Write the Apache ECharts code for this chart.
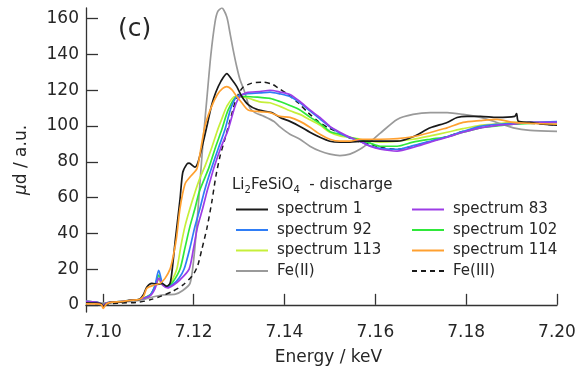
<!DOCTYPE html>
<html>
<head>
<meta charset="utf-8">
<script src="https://cdn.jsdelivr.net/npm/echarts@6/dist/echarts.min.js"></script>
<style>html,body{margin:0;padding:0;background:#fff;}#c{width:581px;height:371px;}</style>
</head>
<body>
<div id="c"></div>
<script>
// ---- Data (energy keV, μd a.u.) ----
const xTicks = [7.10, 7.12, 7.14, 7.16, 7.18, 7.20];
const yTicks = [0, 20, 40, 60, 80, 100, 120, 140, 160];
const legendLeft = ['spectrum 1', 'spectrum 92', 'spectrum 113', 'Fe(II)'];
const legendRight = ['spectrum 83', 'spectrum 102', 'spectrum 114', 'Fe(III)'];

const spectrum1 = [[7.0963,1],[7.0985,1],[7.0997,0.5],[7.1001,-1],[7.1008,0.5],[7.102,1.5],[7.104,1.5],[7.106,2.5],[7.108,3],[7.109,6],[7.1097,10],[7.1108,12],[7.1121,11.5],[7.113,12],[7.1141,10.4],[7.1148,12],[7.1152,18],[7.1160,37],[7.1170,59],[7.1176,74],[7.1185,78.7],[7.1190,79.3],[7.1203,77],[7.1210,80],[7.1222,92],[7.1231,102],[7.1240,112],[7.1249,119],[7.1260,125],[7.1273,129.3],[7.1284,126],[7.1295,122],[7.1306,116.5],[7.1320,112],[7.1342,109],[7.1372,107.5],[7.1390,104.8],[7.1412,102.6],[7.1434,99.8],[7.1456,96.5],[7.1478,93.7],[7.1500,91.5],[7.1522,91],[7.1544,91],[7.1573,91.5],[7.1604,91.5],[7.1648,91.5],[7.1683,94],[7.1721,99],[7.1758,102],[7.1780,104.8],[7.1802,105.4],[7.1831,105.4],[7.1868,104.8],[7.1907,105.4],[7.1911,107],[7.1915,102.6],[7.1941,102],[7.1970,101],[7.2,100.5]];
const spectrum83 = [[7.0963,2],[7.0985,1.5],[7.0997,0.5],[7.1001,-0.5],[7.1008,1],[7.102,1.5],[7.104,1.8],[7.106,2.5],[7.108,3],[7.1104,5],[7.1115,9],[7.1123,15],[7.1132,11],[7.1143,9.5],[7.1155,11],[7.1170,14],[7.1190,20],[7.1200,32],[7.1209,44],[7.1220,54],[7.1229,63],[7.1237,70],[7.1245,77],[7.1260,88],[7.1276,98],[7.1291,111],[7.1302,116.5],[7.1317,118.7],[7.1346,119.3],[7.1368,120],[7.1390,119],[7.1412,117.6],[7.1434,113.7],[7.1456,109],[7.1478,104.8],[7.1500,99.8],[7.1522,96.5],[7.1544,93.7],[7.1566,91.5],[7.1588,88.7],[7.1611,87],[7.1648,86],[7.1683,88],[7.1721,91],[7.1758,93.7],[7.1793,96.5],[7.1831,99],[7.1868,100.4],[7.1904,101],[7.1941,102],[7.2,102]];
const spectrum92 = [[7.0963,2],[7.0985,1.5],[7.0997,0.5],[7.1001,-0.5],[7.1008,1],[7.102,1.5],[7.104,1.8],[7.106,2.5],[7.108,3],[7.1104,5.5],[7.1115,11],[7.1123,19.3],[7.1132,11.5],[7.1143,10],[7.1155,11.5],[7.1168,15],[7.1179,20],[7.1192,32],[7.1203,44],[7.1214,54],[7.1223,63],[7.1231,70],[7.1240,77],[7.1255,88],[7.1269,98],[7.1282,110],[7.1295,116.5],[7.1315,118],[7.1346,118.5],[7.1368,119],[7.1390,118],[7.1412,116.5],[7.1434,113],[7.1456,108.5],[7.1478,104],[7.1500,99.5],[7.1522,96],[7.1544,93.5],[7.1566,91.5],[7.1588,89],[7.1611,87.5],[7.1648,87],[7.1683,89],[7.1721,91.5],[7.1758,94],[7.1793,97],[7.1831,99.8],[7.1868,101],[7.1904,101.5],[7.1941,102],[7.2,102.5]];
const spectrum102 = [[7.0963,2],[7.0985,1.5],[7.0997,0.5],[7.1001,-0.5],[7.1008,1],[7.102,1.5],[7.104,1.8],[7.106,2.5],[7.108,3],[7.1104,5.5],[7.1115,10.5],[7.1123,16.7],[7.1132,11.5],[7.1143,10],[7.1155,13],[7.1170,20],[7.1181,32],[7.1192,44],[7.1203,54],[7.1212,63],[7.1223,70],[7.1234,77],[7.1248,88],[7.1262,98],[7.1276,109],[7.1295,116.5],[7.1315,116.5],[7.1346,116],[7.1368,115.5],[7.1390,113.7],[7.1412,111.5],[7.1434,109],[7.1456,105],[7.1478,101.5],[7.1500,97],[7.1522,95.4],[7.1544,93.7],[7.1566,92.2],[7.1588,90.5],[7.1611,88.7],[7.1648,88.7],[7.1683,91],[7.1721,92.6],[7.1758,94],[7.1793,96.5],[7.1831,99],[7.1868,100],[7.1904,101],[7.1941,101.5],[7.2,102]];
const spectrum113 = [[7.0963,2],[7.0985,1.5],[7.0997,0.5],[7.1001,-0.5],[7.1008,1],[7.102,1.5],[7.104,1.8],[7.106,2.5],[7.108,3],[7.1104,5.5],[7.1115,10],[7.1123,14],[7.1132,11],[7.1143,10.5],[7.1153,14],[7.1163,20],[7.1172,33],[7.1181,44],[7.1192,54],[7.1203,63],[7.1214,71],[7.1225,77.6],[7.1240,88],[7.1253,98],[7.1262,104],[7.1273,111],[7.1291,116.5],[7.1317,115.8],[7.1346,113.5],[7.1368,113],[7.1390,111],[7.1412,108.5],[7.1434,106.5],[7.1456,103.5],[7.1478,100.5],[7.1500,96.5],[7.1522,94.5],[7.1544,93.7],[7.1566,92.6],[7.1588,91.5],[7.1611,91],[7.1648,91.5],[7.1683,92.6],[7.1721,94.5],[7.1758,96.5],[7.1793,98.5],[7.1831,100.4],[7.1868,101.2],[7.1904,102],[7.1941,102],[7.2,102]];
const spectrum114 = [[7.0963,0.5],[7.0985,0.5],[7.0997,0],[7.1001,-2],[7.1008,0.5],[7.102,1.5],[7.104,1.8],[7.106,2.5],[7.108,3],[7.109,5],[7.1097,9.3],[7.1112,11],[7.1126,12],[7.1137,14.8],[7.1148,20],[7.1154,26],[7.1162,37],[7.1170,54],[7.1181,67.6],[7.1192,71.5],[7.1207,76],[7.1215,86],[7.1225,100],[7.1238,110],[7.1252,117.5],[7.1264,121],[7.1273,122],[7.1284,120.3],[7.1295,116.5],[7.1306,113],[7.1320,109],[7.1346,108],[7.1368,107.5],[7.1390,105.4],[7.1412,104.8],[7.1434,102.6],[7.1456,99.3],[7.1478,95.4],[7.1500,92.6],[7.1522,91.5],[7.1544,91.5],[7.1566,92.6],[7.1611,92.6],[7.1683,94],[7.1758,99],[7.1793,102],[7.1831,103],[7.1868,103.7],[7.1904,102],[7.1941,101.5],[7.2,101]];
const feII = [[7.0963,1.5],[7.1,1],[7.104,1.5],[7.108,2.5],[7.1104,4],[7.113,5.5],[7.116,6],[7.1176,8],[7.1192,12],[7.1200,25],[7.1208,48],[7.1215,72],[7.1221,92],[7.1229,115],[7.1238,140],[7.1247,158],[7.1253,164],[7.1262,166],[7.1273,161],[7.1280,152],[7.1287,142.6],[7.1295,133],[7.1302,126],[7.1311,120],[7.1317,115],[7.1324,110],[7.1335,107.5],[7.1355,105.4],[7.1377,102.5],[7.1390,99.5],[7.1412,95.4],[7.1434,92.6],[7.1456,88.7],[7.1478,86],[7.1500,84.3],[7.1522,83.5],[7.1544,84.3],[7.1566,87],[7.1588,91],[7.1611,96],[7.1648,103.7],[7.1683,106.5],[7.1721,107.5],[7.1758,107.5],[7.1793,106.5],[7.1831,104.8],[7.1868,102],[7.1904,99],[7.1941,97.6],[7.2,97]];
const feIII = [[7.0963,1],[7.1,0.5],[7.104,1],[7.108,1.5],[7.1104,2.8],[7.113,5],[7.1154,7.6],[7.1176,11],[7.1198,16.5],[7.1209,22],[7.1218,31],[7.1229,42.6],[7.1240,57.6],[7.1249,72],[7.1258,83],[7.1268,92],[7.1280,103],[7.1292,114],[7.1300,118.5],[7.1308,121.5],[7.1328,124],[7.1352,124.5],[7.1372,123.5],[7.1385,121.5],[7.1408,117.6],[7.1430,113],[7.1452,107.5],[7.1474,102.6],[7.1496,99],[7.1518,96.5],[7.1540,93.7],[7.1562,91.5],[7.1590,89.8],[7.1611,88],[7.1648,87],[7.1683,88.7],[7.1721,91.5],[7.1758,94],[7.1793,97],[7.1831,99],[7.1868,101],[7.1904,101.5],[7.1941,101.5],[7.2,100.5]];

const FONT = 'DejaVu Sans';
const TXT = '#262626';
const AX = '#333';

function line(name, data, color, extra) {
  return Object.assign({
    name, type: 'line', data, symbol: 'none', smooth: 0.25,
    lineStyle: { color, width: 1.7 }, itemStyle: { color },
    emphasis: { disabled: true }
  }, extra || {});
}

const chart = echarts.init(document.getElementById('c'), null, { renderer: 'canvas' });
const legendCommon = {
  orient: 'vertical', itemWidth: 32, itemHeight: 14, itemGap: 5.5,
  selectedMode: false,
  itemStyle: { opacity: 0 },
  textStyle: { fontFamily: FONT, fontSize: 15, color: TXT, padding: [0, 0, 0, 4] }
};
chart.setOption({
  animation: false,
  backgroundColor: '#fff',
  grid: { left: 86, right: 24, top: 8, bottom: 57, containLabel: false },
  xAxis: {
    type: 'value', min: 7.0963, max: 7.2,
    name: 'Energy / keV', nameLocation: 'middle', nameGap: 37,
    nameTextStyle: { fontFamily: FONT, fontSize: 17, color: TXT, padding: [0, 0, 0, 14] },
    axisLine: { show: true, lineStyle: { color: AX, width: 1.3 } },
    axisTick: { show: true, inside: true, length: 11, customValues: xTicks, lineStyle: { color: AX, width: 1.3 } },
    axisLabel: { customValues: xTicks, margin: 12, fontFamily: FONT, fontSize: 17, color: TXT,
      formatter: v => v.toFixed(2) },
    splitLine: { show: false }
  },
  yAxis: {
    type: 'value', min: -4, max: 166,
    name: '{i|μ}d / a.u.', nameLocation: 'middle', nameGap: 56,
    nameTextStyle: { fontFamily: FONT, fontSize: 17, color: TXT,
      rich: { i: { fontFamily: FONT, fontSize: 17, fontStyle: 'italic', color: TXT } } },
    axisLine: { show: true, lineStyle: { color: AX, width: 1.3 } },
    axisTick: { show: true, inside: true, length: 12, customValues: yTicks, lineStyle: { color: AX, width: 1.3 } },
    axisLabel: { customValues: yTicks, margin: 7, fontFamily: FONT, fontSize: 17, color: TXT },
    splitLine: { show: false }
  },
  legend: [
    Object.assign({ left: 230, top: 197, data: legendLeft }, legendCommon),
    Object.assign({ left: 406, top: 197, data: legendRight }, legendCommon)
  ],
  graphic: [
    { type: 'text', left: 118, top: 17, style: { text: '(c)', fontFamily: FONT, fontSize: 25, fill: TXT } },
    { type: 'text', left: 232, top: 178, style: {
      text: '{a|Li}{s|2}{a|FeSiO}{s|4}{a|  - discharge}',
      rich: {
        a: { fontFamily: FONT, fontSize: 15, fill: TXT, color: TXT },
        s: { fontFamily: FONT, fontSize: 10, fill: TXT, color: TXT, padding: [9, 0, 0, 0] }
      } } }
  ],
  series: [
    line('Fe(II)', feII, '#9a9a9a'),
    line('Fe(III)', feIII, '#1a1a1a', { lineStyle: { color: '#1a1a1a', width: 1.5, type: [5, 4] } }),
    line('spectrum 113', spectrum113, '#c6ef3a'),
    line('spectrum 102', spectrum102, '#2fe83a'),
    line('spectrum 92', spectrum92, '#2f7df6'),
    line('spectrum 83', spectrum83, '#9d3ce6'),
    line('spectrum 1', spectrum1, '#1a1a1a'),
    line('spectrum 114', spectrum114, '#ffa030')
  ]
});
</script>
</body>
</html>
